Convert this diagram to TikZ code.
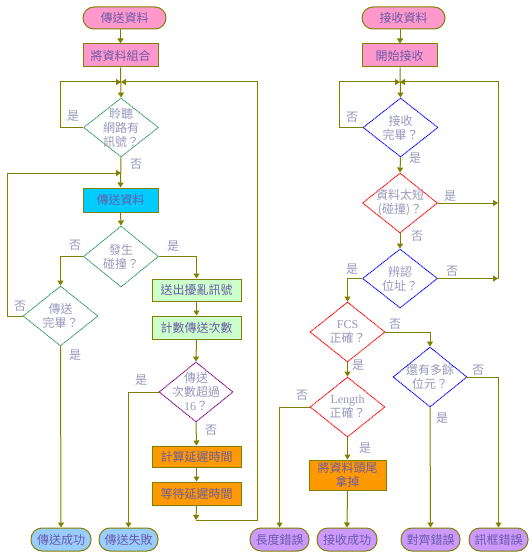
\documentclass[tikz,border=0pt]{standalone}
\usepackage{fontspec}
\setmainfont{Liberation Serif}
\newfontfamily\cjk{Noto Sans CJK TC}
\newfontfamily\lat{Liberation Serif}
\usetikzlibrary{shapes.geometric,arrows.meta}
\definecolor{olivec}{HTML}{808000}
\definecolor{pinkf}{HTML}{FF99CC}
\definecolor{cyanf}{HTML}{00CCFF}
\definecolor{greenf}{HTML}{CCFFCC}
\definecolor{orangef}{HTML}{FF9900}
\definecolor{bluef}{HTML}{99CCFF}
\definecolor{lilacf}{HTML}{CC99FF}
\definecolor{dgreen}{HTML}{339966}
\definecolor{dpurple}{HTML}{800080}
\definecolor{dblue}{HTML}{0000FF}
\definecolor{dred}{HTML}{FF0000}
\definecolor{boxtxt}{HTML}{6A5AA8}
\definecolor{dtxt}{HTML}{9898BC}
\begin{document}
\begin{tikzpicture}[x=1pt,y=-1pt,
  every node/.style={font=\cjk\fontsize{12}{14}\selectfont, inner sep=0pt},
  box/.style={draw=olivec, line width=1pt, minimum width=75pt, minimum height=23pt, text=boxtxt, align=center},
  term/.style={box, rounded corners=11pt},
  dia/.style={diamond, draw, dash pattern=on 1.2pt off 0.6pt, line width=0.9pt, minimum width=75pt, minimum height=59pt, inner sep=0pt},
  dtext/.style={text=dtxt, align=center},
  lab/.style={text=dtxt},
  arr/.style={draw=olivec, line width=1pt, -{Triangle[width=6pt,length=5pt]}},
  ln/.style={draw=olivec, line width=1pt}]
\useasboundingbox (0,0) rectangle (532,559);
\fill[white] (0,0) rectangle (532,559);

% ---------- send side ----------
\node[term, fill=pinkf, minimum width=83pt, minimum height=22pt] (s0) at (124.5,18) {傳送資料};
\node[box, fill=pinkf] (s1) at (120.5,55.5) {將資料組合};
\coordinate (j1) at (121,82);
\node[dia, draw=dgreen] (d1) at (121,127.5) {};
\node[dtext] (d1t) at (d1) {聆聽\\網路有\\訊號？};
\coordinate (j2) at (121,173);
\node[box, fill=cyanf, minimum height=24pt] (s2) at (120.5,200) {傳送資料};
\node[dia, draw=dgreen, minimum height=61pt] (d2) at (121,256.5) {};
\node[dtext] (d2t) at (d2) {發生\\碰撞？};
\node[dia, draw=dgreen, minimum height=60pt] (d3) at (60.5,316) {};
\node[dtext] (d3t) at (d3) {傳送\\完畢？};
\node[box, fill=greenf, minimum width=89pt, minimum height=22pt] (s3) at (196.5,290) {送出擾亂訊號};
\node[box, fill=greenf, minimum width=89pt] (s4) at (196.5,327.5) {計數傳送次數};
\node[dia, draw=dpurple, minimum width=74pt, minimum height=60pt] (d4) at (196,392) {};
\node[dtext] (d4t) at (d4) {傳送\\次數超過\\{\lat 16}？};
\node[box, fill=orangef, minimum width=89pt, minimum height=21pt] (s5) at (196.5,456.5) {計算延遲時間};
\node[box, fill=orangef, minimum width=89pt] (s6) at (196.5,493.5) {等待延遲時間};
\coordinate (j3) at (196,520);
\node[term, fill=bluef, minimum width=60pt] (t1) at (61,539.5) {傳送成功};
\node[term, fill=bluef, minimum width=59pt] (t2) at (128.5,539.5) {傳送失敗};

\draw[arr] (s0.south -| s1.north) -- (s1.north);
\draw[arr] (s1.south) -- (d1.north);
\draw[arr] (d1.west) -- (60.5,127.5) |- (j1);
\draw[arr] (j3) -- (257,520) |- (j1);
\draw[arr] (d1.south) -- (s2.north);
\draw[arr] (d3.west) -- (7,316) |- (j2);
\draw[arr] (s2.south) -- (d2.north);
\draw[arr] (d2.west) -| (d3.north);
\draw[arr] (d2.east) -| (s3.north);
\draw[arr] (s3.south) -- (s4.north);
\draw[arr] (s4.south) -- (d4.north);
\draw[arr] (d4.south) -- (s5.north);
\draw[arr] (s5.south) -- (s6.north);
\draw[arr] (s6.south) -- (j3);
\draw[arr] (d4.west) -| (t2.north);
\draw[arr] (d3.south) -- (t1.north);

\node[lab] (l1) at (73,116) {是};
\node[lab] (l2) at (136,164) {否};
\node[lab] (l3) at (75,245) {否};
\node[lab] (l4) at (173,246) {是};
\node[lab] (l5) at (20,306) {否};
\node[lab] (l6) at (75,355) {是};
\node[lab] (l7) at (141,380) {是};
\node[lab] (l8) at (211,430) {否};

% ---------- receive side ----------
\node[term, fill=pinkf, minimum width=83pt, minimum height=22pt] (r0) at (403.5,18) {接收資料};
\node[box, fill=pinkf] (r1) at (399.5,55.5) {開始接收};
\coordinate (k1) at (400,82);
\node[dia, draw=dblue] (e1) at (400.5,127.5) {};
\node[dtext] (e1t) at (e1) {接收\\完畢？};
\node[dia, draw=dred, minimum height=60pt] (e2) at (400,203) {};
\node[dtext] (e2t) at (e2) {資料太短\\({碰撞})？};
\node[dia, draw=dblue] (e3) at (400,278.5) {};
\node[dtext] (e3t) at (e3) {辨認\\位址？};
\coordinate (k2) at (498,278.5);
\node[dia, draw=dred, minimum height=60pt] (e4) at (347.5,332) {};
\node[dtext] (e4t) at (e4) {{\lat FCS}\\正確？};
\node[dia, draw=dblue, minimum width=74pt, minimum height=60pt] (e5) at (430,377) {};
\node[dtext] (e5t) at (e5) {還有多餘\\位元？};
\node[dia, draw=dred, minimum height=60pt] (e6) at (347.5,407) {};
\node[dtext] (e6t) at (e6) {{\lat Length}\\正確？};
\node[box, fill=orangef, minimum width=77pt, minimum height=30pt] (r2) at (347.5,475) {將資料頭尾\\拿掉};
\node[term, fill=lilacf, minimum width=59pt] (u1) at (279.5,539.5) {長度錯誤};
\node[term, fill=lilacf, minimum width=60pt] (u2) at (347,539.5) {接收成功};
\node[term, fill=lilacf, minimum width=59pt] (u3) at (430.5,539.5) {對齊錯誤};
\node[term, fill=lilacf, minimum width=59pt] (u4) at (498.5,539.5) {訊框錯誤};

\draw[arr] (r0.south -| k1) -- (r1.north -| k1);
\draw[arr] (r1.south -| k1) -- (e1.north);
\draw[arr] (e1.west) -- (339,127.5) |- (k1);
\draw[arr] (e3.east) -- (k2);
\draw[arr] (k2) |- (k1);
\draw[arr] (e2.east) -- (e2.east -| k2);
\draw[arr] (e1.south) -- (e2.north);
\draw[arr] (e2.south) -- (e3.north);
\draw[arr] (e3.west) -| (e4.north);
\draw[arr] (e4.east) -| (e5.north);
\draw[arr] (e4.south) -- (e6.north);
\draw[arr] (e6.west) -| (u1.north);
\draw[arr] (e6.south) -- (r2.north);
\draw[arr] (r2.south) -- (u2.north);
\draw[arr] (e5.south) -- (u3.north);
\draw[arr] (e5.east) -| (u4.north);

\node[lab] (m1) at (352,117) {否};
\node[lab] (m2) at (415,158) {是};
\node[lab] (m3) at (450,196) {是};
\node[lab] (m4) at (417,236) {否};
\node[lab] (m5) at (352,269) {是};
\node[lab] (m6) at (452,271) {否};
\node[lab] (m7) at (395,324) {否};
\node[lab] (m8) at (358,365) {是};
\node[lab] (m9) at (302,395) {否};
\node[lab] (m10) at (365,448) {是};
\node[lab] (m11) at (478,370) {否};
\node[lab] (m12) at (442,418) {是};
\end{tikzpicture}
\end{document}
